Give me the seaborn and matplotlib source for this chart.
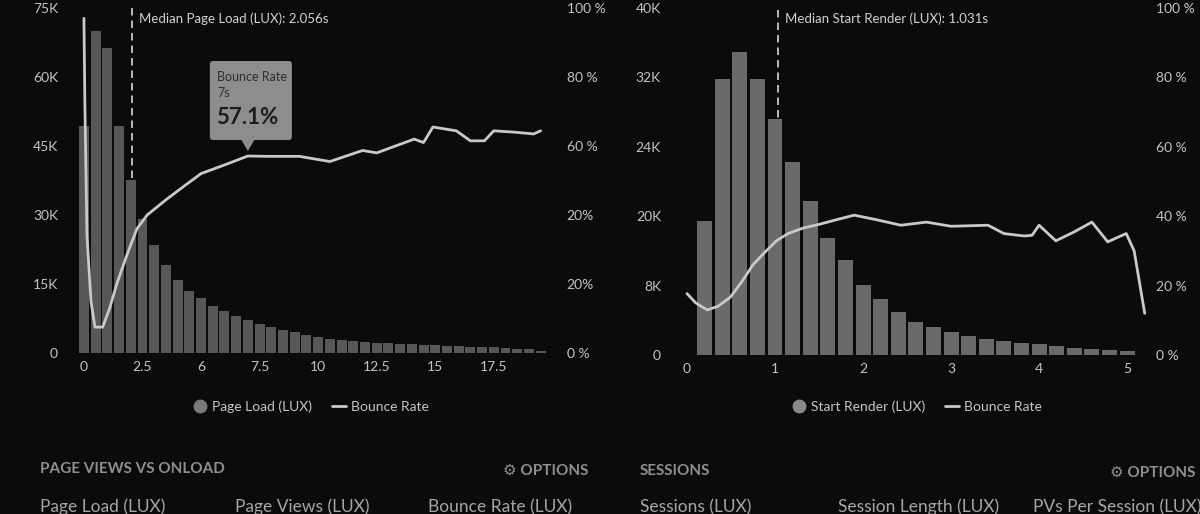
import numpy as np
import pandas as pd
import matplotlib
matplotlib.use('Agg')
import matplotlib.pyplot as plt
from matplotlib.patches import FancyBboxPatch, Polygon
from matplotlib.lines import Line2D
from matplotlib.transforms import ScaledTranslation, IdentityTransform
import seaborn as sns

# left panel: page load (s) histogram + bounce rate
load_bins = np.arange(0, 20, 0.5)
load_counts = [49300, 69900, 66200, 49300, 37700, 29100, 23400, 19100, 15900, 13500,
               12000, 10300, 9200, 8100, 7100, 6200, 5600, 5100, 4500, 3900,
               3400, 3000, 2800, 2600, 2400, 2200, 2100, 2000, 1900, 1800,
               1700, 1600, 1500, 1400, 1300, 1200, 1000, 900, 800, 500]
load_bounce_x = [0, 0.04, 0.13, 0.3, 0.47, 0.8, 1.1, 1.4, 1.84, 2.26, 2.7, 3.5, 4.4, 5.0,
                 6.0, 7.0, 7.8, 9.2, 10.5, 11.9, 12.5, 14.1, 14.5, 14.9, 15.9, 16.5, 17.1,
                 17.5, 18.4, 19.2, 19.5]
load_bounce = [97, 72, 34, 15, 7.5, 7.5, 13, 20, 28.5, 36, 40, 44.4, 49, 52,
               54.5, 57.1, 57, 57, 55.5, 58.7, 58, 62, 61, 65.5, 64.4, 61.5, 61.5,
               64.4, 64, 63.5, 64.4]
load_median = 2.056
tip_x, tip_val = 7, 57.1

# right panel: start render (s) histogram + bounce rate
render_bins = np.arange(0.2, 5.01, 0.2)
render_counts = [15500, 31800, 34900, 31800, 27200, 22200, 17800, 13500, 10900, 8100,
                 6400, 4900, 3800, 3200, 2600, 2200, 1800, 1600, 1400, 1300,
                 1000, 850, 700, 600, 500]
render_bounce_x = [0.0, 0.1, 0.23, 0.35, 0.49, 0.62, 0.75, 0.9, 1.02, 1.15, 1.32, 1.51, 1.7,
                   1.9, 2.15, 2.43, 2.72, 3.0, 3.42, 3.6, 3.83, 3.92, 4.0, 4.19, 4.4, 4.6,
                   4.78, 4.9, 4.99, 5.08, 5.2]
render_bounce = [17.7, 15, 13, 14, 16.6, 21, 26, 30, 33, 35, 36.6, 37.7, 39,
                 40.3, 39, 37.4, 38.3, 37.1, 37.4, 35, 34.3, 34.5, 37.4, 32.9, 35.5, 38.3,
                 32.6, 34, 35, 30, 12]
render_median = 1.031

bg = '#0b0b0b'
txt = '#c4c4c4'
line_c = '#c9c9c9'

sns.set_theme(style='dark', rc={'figure.facecolor': bg, 'axes.facecolor': bg,
                                'savefig.facecolor': bg})
plt.rcParams['font.family'] = ['Lato', 'DejaVu Sans']

fig = plt.figure(figsize=(12, 5.14), dpi=100)
W, H = 1200, 514


def panel(l, r, b, t):
    return fig.add_axes([l / W, 1 - b / H, (r - l) / W, (b - t) / H])


def style(a):
    for s in a.spines.values():
        s.set_visible(False)
    a.tick_params(length=0, labelcolor=txt, labelsize=10)
    a.set_xlabel('')
    a.set_ylabel('')
    a.grid(False)


# ---- left chart
ax = panel(72, 550, 353, 8)
sns.barplot(x=load_bins, y=load_counts, native_scale=True, width=0.85, color='#575757',
            saturation=1, errorbar=None, edgecolor='none', linewidth=0, ax=ax, zorder=2)
ax.axvline(load_median, color='#d8d8d8', ls=(0, (4.5, 3)), lw=1.2, zorder=1)
ax.annotate('Median Page Load (LUX): 2.056s', xy=(load_median, 1),
            xycoords=('data', 'axes fraction'), xytext=(7, -11), textcoords='offset pixels',
            va='center', color='#d2d2d2', fontsize=9.5)
ax.set_xlim(-0.51, 19.9)
ax.set_ylim(0, 75000)
ax.set_xticks([0, 2.5, 5, 7.5, 10, 12.5, 15, 17.5])
ax.set_xticklabels(['0', '2.5', '6', '7.5', '10', '12.5', '15', '17.5'])
ax.set_yticks([0, 15000, 30000, 45000, 60000, 75000])
ax.set_yticklabels(['0', '15K', '30K', '45K', '60K', '75K'])
style(ax)
ax.tick_params(axis='y', pad=10)
ax.tick_params(axis='x', pad=6)

ax2 = ax.twinx()
sns.lineplot(x=load_bounce_x, y=load_bounce, ax=ax2, color=line_c, lw=2, zorder=3)
ax2.set_ylim(0, 100)
ax2.set_yticks([0, 20, 40, 60, 80, 100])
ax2.set_yticklabels(['0 %', '20%', '20%', '60 %', '80 %', '100 %'])
style(ax2)
ax2.tick_params(axis='y', pad=12)

# tooltip at 7s
tr = IdentityTransform() + ScaledTranslation(tip_x, tip_val, ax2.transData)
ax2.add_patch(FancyBboxPatch((-38, 16), 82, 79, boxstyle='round,pad=0,rounding_size=3',
                             transform=tr, fc='#8d8d8d', ec='none', zorder=5, clip_on=False))
ax2.add_patch(Polygon([(-7, 17), (7, 17), (0, 5)], closed=True, transform=tr,
                      fc='#8d8d8d', ec='none', zorder=5, clip_on=False))
ax2.annotate('Bounce Rate', xy=(tip_x, tip_val), xytext=(-31, 79), textcoords='offset pixels',
             va='center', color='#2e2e2e', fontsize=9, zorder=6)
ax2.annotate('7s', xy=(tip_x, tip_val), xytext=(-31, 63), textcoords='offset pixels',
             va='center', color='#2e2e2e', fontsize=9, zorder=6)
ax2.annotate('57.1%', xy=(tip_x, tip_val), xytext=(-32, 39), textcoords='offset pixels',
             va='center', color='#1c1c1c', fontsize=16, fontweight='bold', zorder=6)

# ---- right chart
bx = panel(675, 1150, 355, 8)
sns.barplot(x=render_bins, y=render_counts, native_scale=True, width=0.85, color='#6a6a6a',
            saturation=1, errorbar=None, edgecolor='none', linewidth=0, ax=bx, zorder=2)
bx.axvline(render_median, color='#d8d8d8', ls=(0, (4.5, 3)), lw=1.2, zorder=1)
bx.annotate('Median Start Render (LUX): 1.031s', xy=(render_median, 1),
            xycoords=('data', 'axes fraction'), xytext=(7, -11), textcoords='offset pixels',
            va='center', color='#d2d2d2', fontsize=9.5)
bx.set_xlim(-0.136, 5.26)
bx.set_ylim(0, 40000)
bx.set_xticks([0, 1, 2, 3, 4, 5])
bx.set_yticks([0, 8000, 16000, 24000, 32000, 40000])
bx.set_yticklabels(['0', '8K', '20K', '24K', '32K', '40K'])
style(bx)
bx.tick_params(axis='y', pad=10)
bx.tick_params(axis='x', pad=6)

bx2 = bx.twinx()
sns.lineplot(x=render_bounce_x, y=render_bounce, ax=bx2, color=line_c, lw=2, zorder=3)
bx2.set_ylim(0, 100)
bx2.set_yticks([0, 20, 40, 60, 80, 100])
bx2.set_yticklabels(['0 %', '20 %', '40 %', '60 %', '80 %', '100 %'])
style(bx2)
bx2.tick_params(axis='y', pad=4)

# ---- legends
for name, cx, bar_c in [('Page Load (LUX)', 311, '#7a7a7a'), ('Start Render (LUX)', 917, '#8a8a8a')]:
    handles = [Line2D([], [], ls='none', marker='o', ms=9, color=bar_c),
               Line2D([], [], color=line_c, lw=2)]
    fig.legend(handles, [name, 'Bounce Rate'], loc='center', ncol=2, frameon=False,
               bbox_to_anchor=(cx / W, 1 - 407 / H), fontsize=10, labelcolor=txt,
               handlelength=1.0, handletextpad=0.4, columnspacing=1.4)

# ---- section headers below the charts
head_c = '#8f8f8f'
fig.text(40 / W, 1 - 469 / H, 'PAGE VIEWS VS ONLOAD', color=head_c, fontsize=11,
         fontweight='bold', va='center')
fig.text(588 / W, 1 - 471 / H, '⚙ OPTIONS', color=head_c, fontsize=11,
         fontweight='bold', va='center', ha='right')
fig.text(640 / W, 1 - 471 / H, 'SESSIONS', color=head_c, fontsize=11,
         fontweight='bold', va='center')
fig.text(1195 / W, 1 - 473 / H, '⚙ OPTIONS', color=head_c, fontsize=11,
         fontweight='bold', va='center', ha='right')
for label, x in [('Page Load (LUX)', 40), ('Page Views (LUX)', 235), ('Bounce Rate (LUX)', 428),
                 ('Sessions (LUX)', 640), ('Session Length (LUX)', 838),
                 ('PVs Per Session (LUX)', 1033)]:
    fig.text(x / W, 1 - 507 / H, label, color='#a6a6a6', fontsize=12.5, va='center')

fig.savefig('out.png', dpi=100, facecolor=bg)
